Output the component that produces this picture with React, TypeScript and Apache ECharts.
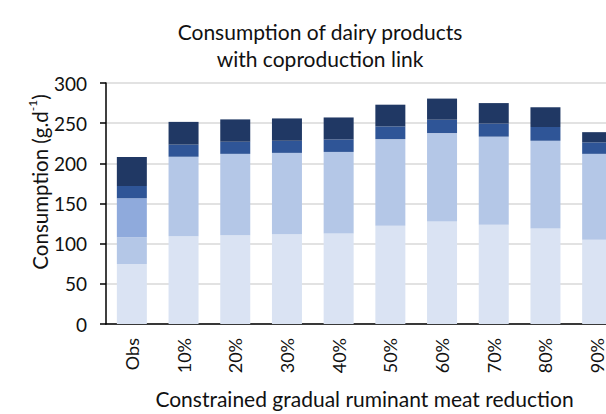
import React, { useEffect, useRef } from 'react';
import * as echarts from 'echarts';

const categories = ['Obs', '10%', '20%', '30%', '40%', '50%', '60%', '70%', '80%', '90%'];
const seriesNames = ['Part 1', 'Part 2', 'Part 3', 'Part 4', 'Part 5'];
const part1 = [74.6, 109.2, 110.4, 111.6, 112.8, 122.3, 127.5, 123.5, 118.8, 104.9];
const part2 = [33.4, 99.0, 101.4, 101.4, 101.4, 107.8, 110.1, 109.7, 109.3, 106.9];
const part3 = [48.5, 0, 0, 0, 0, 0, 0, 0, 0, 0];
const part4 = [15.2, 15.1, 15.1, 15.1, 15.5, 15.9, 16.7, 16.3, 17.1, 14.3];
const part5 = [36.3, 28.3, 27.8, 27.8, 27.4, 27.0, 26.3, 25.5, 24.6, 12.7];
const colors = ['#DAE3F3', '#B4C7E7', '#8FAADC', '#2F5597', '#203864'];
const yTicks = { min: 0, max: 300, interval: 50 };

const FONT = 'Lato, "Open Sans", sans-serif';

export default function App() {
  const ref = useRef<HTMLDivElement>(null);
  useEffect(() => {
    if (!ref.current) return;
    const chart = echarts.init(ref.current, null, { renderer: 'svg' });
    const data = [part1, part2, part3, part4, part5];
    chart.setOption({
      animation: false,
      textStyle: { fontFamily: FONT },
      title: {
        text: 'Consumption of dairy products\nwith coproduction link',
        left: 'center',
        top: 13,
        textStyle: { fontFamily: FONT, fontSize: 21, fontWeight: 'normal', color: '#111', lineHeight: 27 },
      },
      grid: { left: 106, top: 83, width: 517, height: 251, containLabel: false },
      xAxis: {
        type: 'category',
        data: categories,
        axisLine: { lineStyle: { color: '#000', width: 1.5 } },
        axisTick: { show: false },
        axisLabel: { rotate: 90, margin: 14, fontSize: 18, color: '#111', fontFamily: FONT },
        name: 'Constrained gradual ruminant meat reduction',
        nameLocation: 'middle',
        nameGap: 64,
        nameTextStyle: { fontSize: 21, color: '#111', fontFamily: FONT },
      },
      yAxis: {
        type: 'value',
        min: yTicks.min,
        max: yTicks.max,
        interval: yTicks.interval,
        axisLine: { show: true, lineStyle: { color: '#000', width: 1.5 } },
        axisTick: { show: true, length: 6, lineStyle: { color: '#000', width: 1.5 } },
        axisLabel: { margin: 19, fontSize: 19, color: '#111', fontFamily: FONT },
        splitLine: { lineStyle: { color: '#D9D9D9', width: 1.5 } },
      },
      graphic: [
        {
          type: 'text',
          x: 38,
          y: 182,
          rotation: Math.PI / 2,
          style: {
            text: '{a|Consumption (g.d}{b|-1}{a|)}',
            fontFamily: FONT,
            align: 'center',
            verticalAlign: 'middle',
            fill: '#111',
            rich: {
              a: { fontSize: 20.5, fontFamily: FONT, fill: '#111', lineHeight: 24, verticalAlign: 'bottom' },
              b: { fontSize: 12, fontFamily: FONT, fill: '#111', lineHeight: 24, verticalAlign: 'top' },
            },
          },
        },
      ],
      series: data.map((d, i) => ({
        name: seriesNames[i],
        type: 'bar',
        stack: 'total',
        barWidth: 30,
        data: d,
        itemStyle: { color: colors[i] },
      })),
    });
    return () => chart.dispose();
  }, []);
  return (
    <div style={{ position: 'fixed', left: 0, top: 0, width: 606, height: 414, overflow: 'hidden', background: '#fff' }}>
      <div ref={ref} style={{ width: 640, height: 414 }} />
    </div>
  );
}
